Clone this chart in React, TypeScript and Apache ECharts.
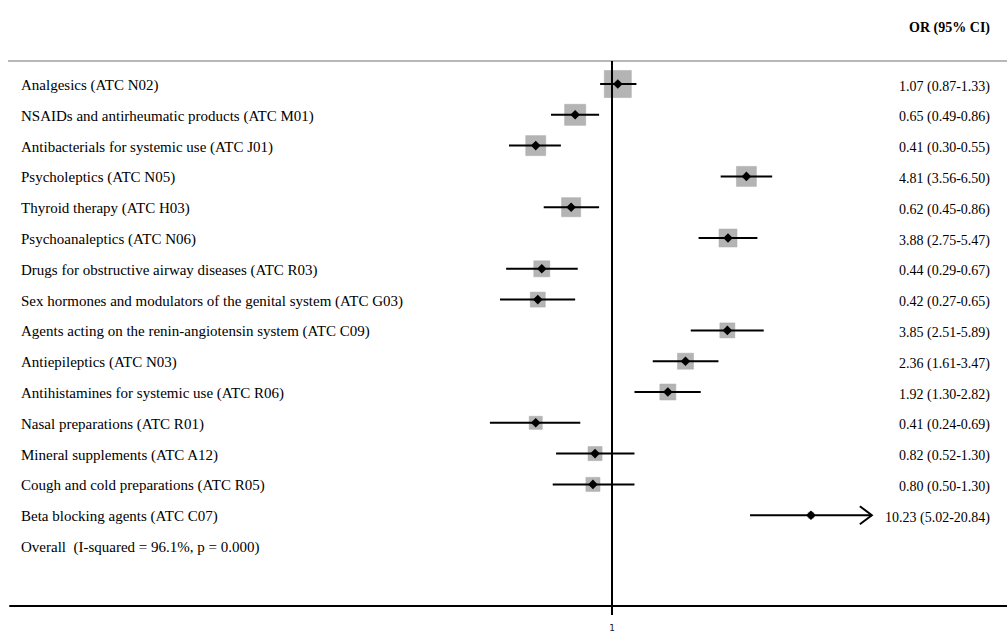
import React, { useEffect, useRef } from "react";
import * as echarts from "echarts";

const categories = [
  "Analgesics (ATC N02)",
  "NSAIDs and antirheumatic products (ATC M01)",
  "Antibacterials for systemic use (ATC J01)",
  "Psycholeptics (ATC N05)",
  "Thyroid therapy (ATC H03)",
  "Psychoanaleptics (ATC N06)",
  "Drugs for obstructive airway diseases (ATC R03)",
  "Sex hormones and modulators of the genital system (ATC G03)",
  "Agents acting on the renin-angiotensin system (ATC C09)",
  "Antiepileptics (ATC N03)",
  "Antihistamines for systemic use (ATC R06)",
  "Nasal preparations (ATC R01)",
  "Mineral supplements (ATC A12)",
  "Cough and cold preparations (ATC R05)",
  "Beta blocking agents (ATC C07)",
];
const orValues = [1.07, 0.65, 0.41, 4.81, 0.62, 3.88, 0.44, 0.42, 3.85, 2.36, 1.92, 0.41, 0.82, 0.8, 10.23];
const ciLower = [0.87, 0.49, 0.3, 3.56, 0.45, 2.75, 0.29, 0.27, 2.51, 1.61, 1.3, 0.24, 0.52, 0.5, 5.02];
const ciUpper = [1.33, 0.86, 0.55, 6.5, 0.86, 5.47, 0.67, 0.65, 5.89, 3.47, 2.82, 0.69, 1.3, 1.3, 20.84];
const weights = [16.3, 9.9, 8.9, 8.9, 8.1, 7.2, 5.7, 5.0, 5.0, 5.7, 5.7, 3.8, 4.4, 4.4, 0.8];
const overallLabel = "Overall  (I-squared = 96.1%, p = 0.000)";
const headerLabel = "OR (95% CI)";
const xTickValues = [1];
const arrowAbove = 20; // CIs beyond this are drawn with an arrow

const SERIF = "Liberation Serif";

export default function App() {
  const ref = useRef<HTMLDivElement>(null);

  useEffect(() => {
    if (!ref.current) return;
    const chart = echarts.init(ref.current, null, { renderer: "svg" });

    const data = orValues.map((v, i) => [
      i,
      Math.log10(v),
      Math.log10(ciLower[i]),
      Math.log10(ciUpper[i]),
      weights[i],
    ]);

    const fmt = (n: number) => n.toFixed(2);

    const textStyle = (text: string, size: number, align: string, weight = "normal") => ({
      text,
      x: 0,
      y: 0,
      fontSize: size,
      fontFamily: SERIF,
      fontWeight: weight,
      fill: "#000",
      textAlign: align,
      textVerticalAlign: "middle",
      verticalAlign: "middle",
    });

    const option: any = {
      animation: false,
      backgroundColor: "#fff",
      grid: { left: 10, right: 0, top: 61, bottom: 27 },
      xAxis: {
        type: "value",
        min: -3.056,
        max: 2.005,
        axisLine: { show: true, onZero: false, lineStyle: { color: "#000", width: 2 } },
        axisTick: {
          show: true,
          customValues: xTickValues.map((v) => Math.log10(v)),
          length: 9,
          lineStyle: { color: "#000", width: 2 },
        },
        axisLabel: {
          show: true,
          customValues: xTickValues.map((v) => Math.log10(v)),
          formatter: (v: number) => String(Math.round(Math.pow(10, v) * 100) / 100),
          fontSize: 9,
          fontFamily: "DejaVu Sans",
          color: "#222",
          margin: 17,
        },
        splitLine: { show: false },
      },
      yAxis: {
        type: "value",
        inverse: true,
        min: -0.747,
        max: 16.948,
        show: false,
        splitLine: { show: false },
      },
      graphic: [
        {
          type: "line",
          shape: { x1: 8, y1: 61, x2: 1007, y2: 61 },
          style: { stroke: "#b8b8b8", lineWidth: 2 },
          silent: true,
        },
        {
          type: "text",
          x: 990,
          y: 27,
          style: textStyle(headerLabel, 14, "right", "bold"),
        },
      ],
      series: [
        {
          type: "custom",
          coordinateSystem: "cartesian2d",
          data,
          clip: false,
          markLine: {
            silent: true,
            symbol: "none",
            label: { show: false },
            lineStyle: { color: "#000", width: 2, type: "solid" },
            data: [{ xAxis: 0 }],
          },
          renderItem: (params: any, api: any) => {
            const idx = params.dataIndex;
            const row = api.value(0);
            const est = api.value(1);
            const lo = api.value(2);
            const hi = api.value(3);
            const w = api.value(4);
            const pE = api.coord([est, row]);
            const pL = api.coord([lo, row]);
            const pH = api.coord([hi, row]);
            const cx = pE[0];
            const cy = pE[1];
            const s = 6.7 * Math.sqrt(w);
            const d = 4.8;
            const left = params.coordSys.x;
            const children: any[] = [
              {
                type: "rect",
                shape: { x: cx - s / 2, y: cy - s / 2, width: s, height: s },
                style: { fill: "#b4b4b4", stroke: "#a8a8a8", lineWidth: 0.5 },
              },
              {
                type: "line",
                shape: { x1: pL[0], y1: cy, x2: pH[0], y2: cy },
                style: { stroke: "#000", lineWidth: 2 },
              },
              {
                type: "polygon",
                shape: {
                  points: [
                    [cx - d, cy],
                    [cx, cy - d],
                    [cx + d, cy],
                    [cx, cy + d],
                  ],
                },
                style: { fill: "#000" },
              },
              {
                type: "text",
                x: left + 11,
                y: cy + 1,
                style: textStyle(categories[idx], 15, "left"),
              },
              {
                type: "text",
                x: 990,
                y: cy + 2,
                style: textStyle(
                  `${fmt(orValues[idx])} (${fmt(ciLower[idx])}-${fmt(ciUpper[idx])})`,
                  14,
                  "right"
                ),
              },
            ];
            if (ciUpper[idx] > arrowAbove) {
              const ax = pH[0];
              children.push({
                type: "polyline",
                shape: {
                  points: [
                    [ax - 12, cy - 9],
                    [ax, cy],
                    [ax - 12, cy + 9],
                  ],
                },
                style: { stroke: "#000", lineWidth: 2, fill: "none" },
              });
            }
            return { type: "group", children };
          },
        },
        {
          type: "custom",
          coordinateSystem: "cartesian2d",
          data: [[0, categories.length]],
          renderItem: (params: any, api: any) => {
            const p = api.coord([api.value(0), api.value(1)]);
            return {
              type: "text",
              x: params.coordSys.x + 11,
              y: p[1] + 1,
              style: textStyle(overallLabel, 15, "left"),
            };
          },
        },
      ],
    };

    chart.setOption(option);
    return () => chart.dispose();
  }, []);

  return <div ref={ref} style={{ width: 1007, height: 633, position: "absolute", left: 0, top: 0 }} />;
}
